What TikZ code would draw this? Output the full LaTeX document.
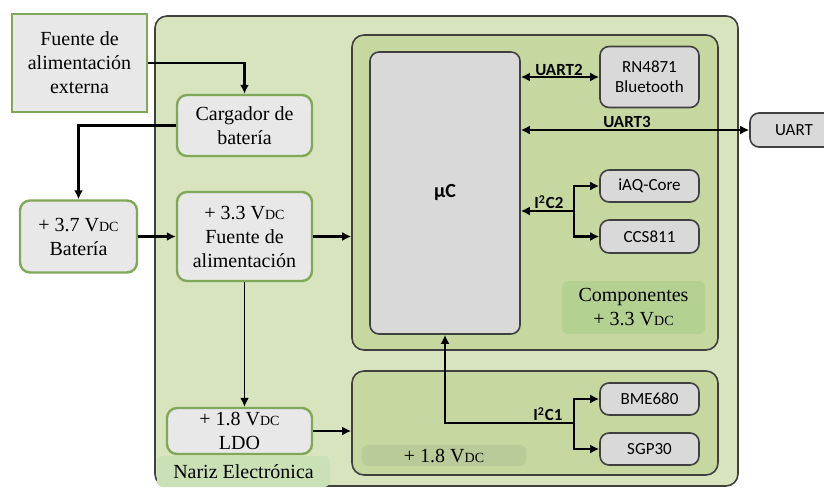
\documentclass[tikz,border=0pt]{standalone}
\usepackage{fontspec}
\setmainfont{Liberation Serif}
\newfontfamily\calibri{Carlito}
\usetikzlibrary{shapes, arrows.meta}
\definecolor{outergreen}{RGB}{215,228,190}
\definecolor{innergreen}{RGB}{198,216,160}
\definecolor{labelgreen}{RGB}{181,209,146}
\definecolor{lowlabel}{RGB}{186,203,154}
\definecolor{narizgreen}{RGB}{201,225,180}
\definecolor{boxgray}{RGB}{232,232,232}
\definecolor{chipgray}{RGB}{217,217,217}
\definecolor{edgegreen}{RGB}{128,168,88}
\definecolor{edgedark}{RGB}{64,64,64}
\tikzstyle{block}=[draw=edgegreen,fill=boxgray,rectangle,rounded corners=5pt,align=center,font=\fontsize{10}{12}\selectfont,inner sep=0pt]
\tikzstyle{chip}=[draw=edgedark,line width=0.8pt,fill=chipgray,rectangle,rounded corners=4.5pt,align=center,font=\calibri\fontsize{8.5}{10}\selectfont,inner sep=0pt,minimum width=49.5pt]
\tikzstyle{frame}=[draw=edgedark,line width=0.8pt,rectangle,rounded corners=6pt,inner sep=0pt]
\tikzstyle{tag}=[rectangle,rounded corners=3pt,align=center,font=\fontsize{10}{12}\selectfont,inner sep=0pt]
\tikzstyle{bus}=[font=\calibri\bfseries\fontsize{8.5}{10}\selectfont,inner sep=0pt]
\newcommand{\vdc}{V{\fontsize{7}{8}\selectfont DC}}

\begin{document}
\begin{tikzpicture}[x=0.5pt,y=-0.5pt,>={Latex[length=4.5pt,width=4.5pt]},line width=1.2pt]
    \useasboundingbox (0,0) rectangle (824,487);
    % frames
    \node[frame, fill=outergreen, minimum width=291.5pt, minimum height=235pt] (nose) at (446.5,251) {};
    \node[frame, fill=innergreen, minimum width=183pt, minimum height=157.5pt] (comp) at (535,192.5) {};
    \node[frame, fill=innergreen, minimum width=183pt, minimum height=52pt] (low) at (535,423) {};
    \node[tag, fill=narizgreen, minimum width=86.5pt, minimum height=15.5pt] (nariz) at (243.5,471.5) {Nariz Electrónica};
    \node[tag, fill=labelgreen, minimum width=71.5pt, minimum height=26.5pt] (compl) at (633.5,307.5) {Componentes\\+ 3.3 \vdc};
    \node[tag, fill=lowlabel, minimum width=82pt, minimum height=10.5pt] (lowl) at (444,455.5) {+ 1.8 \vdc};
    % power blocks
    \node[block, rounded corners=0pt, minimum width=67.5pt, minimum height=49pt] (ext) at (79.5,63) {Fuente de\\alimentación\\externa};
    \node[block, minimum width=67.5pt, minimum height=30.5pt] (carg) at (244.5,125.5) {Cargador de\\batería};
    \node[block, minimum width=58.5pt, minimum height=36pt] (bat) at (78.5,236.5) {+ 3.7 \vdc\\Batería};
    \node[block, minimum width=67.5pt, minimum height=44.5pt] (fte) at (244.5,236.5) {+ 3.3 \vdc\\Fuente de\\alimentación};
    \node[block, minimum width=72.5pt, minimum height=23pt] (ldo) at (239.5,431) {+ 1.8 \vdc\\LDO};
    % chips
    \node[chip, minimum width=75pt, minimum height=141pt, font=\calibri\bfseries\fontsize{10}{12}\selectfont] (uc) at (445,193) {µC};
    \node[chip, minimum height=30.5pt] (rn) at (649.5,77) {RN4871\\Bluetooth};
    \node[chip, minimum width=44pt, minimum height=17pt] (uart) at (794,130) {UART};
    \node[chip, minimum height=16pt] (iaq) at (649.5,186) {iAQ-Core};
    \node[chip, minimum height=16.5pt] (ccs) at (649.5,236.5) {CCS811};
    \node[chip, minimum height=16pt] (bme) at (649.5,399) {BME680};
    \node[chip, minimum height=16pt] (sgp) at (649.5,449) {SGP30};
    % buses
    \coordinate (j2) at (574,211);
    \coordinate (j1) at (574,423);
    \node[bus] (u2) at (559,70) {UART2};
    \node[bus] (u3) at (627,122) {UART3};
    \node[bus] (i2) at (549,202) {I\textsuperscript{2}C2};
    \node[bus] (i1) at (548,414) {I\textsuperscript{2}C1};
    % arrows
    \draw[->] (ext.east) -| (carg.north);
    \draw[->] (carg.west) -| (bat.north);
    \draw[->] (bat.east) -- (fte.west);
    \draw[->] (fte.east) -- (fte.east -| comp.west);
    \draw[->, line width=0.8pt] (fte.south) -- (fte.south |- ldo.north);
    \draw[->] (ldo.east) -- (ldo.east -| low.west);
    \draw[<->] (uc.east |- rn.west) -- (rn.west);
    \draw[<->] (uc.east |- uart.west) -- (uart.west);
    \draw[->] (j2) -- (uc.east |- j2);
    \draw[->] (j2) |- (iaq.west);
    \draw[->] (j2) |- (ccs.west);
    \draw[->] (j1) -| (uc.south);
    \draw[->] (j1) |- (bme.west);
    \draw[->] (j1) |- (sgp.west);
\end{tikzpicture}
\end{document}
